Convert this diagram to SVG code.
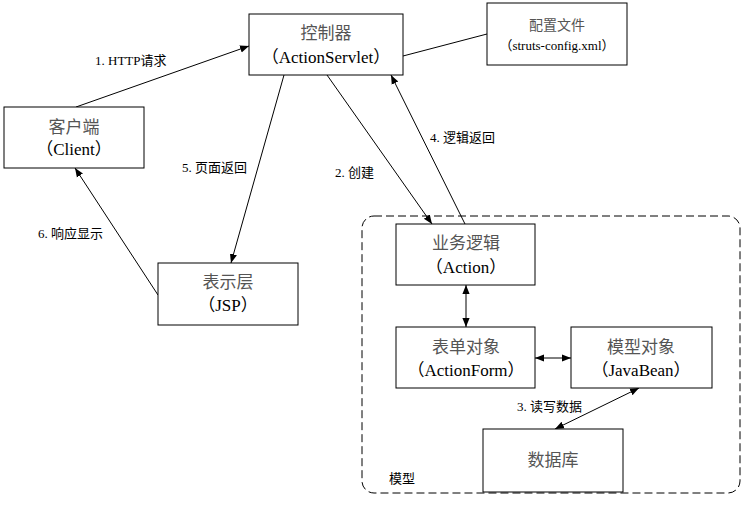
<svg xmlns="http://www.w3.org/2000/svg" width="745" height="506" viewBox="0 0 745 506">
<defs>
<marker id="ah" viewBox="0 0 10 10" refX="10" refY="5" markerWidth="9" markerHeight="9" markerUnits="userSpaceOnUse" orient="auto-start-reverse">
<path d="M0,1 L10,5 L0,9 z" fill="#000"/>
</marker>
<style>
.box{fill:#fff;stroke:#000;stroke-width:1}
.t{font-family:"Liberation Serif","Noto Sans CJK SC",serif;font-size:17px;fill:#000;text-anchor:middle}
.cn{fill:#555}
.lbl{font-family:"Liberation Serif","Noto Sans CJK SC",serif;font-size:13px;fill:#000}
.c{fill:none;stroke:#000;stroke-width:1}
</style>
</defs>
<rect width="745" height="506" fill="#fff"/>
<g id="model-group">
<rect x="362" y="216" width="378" height="277" rx="12" ry="12" fill="none" stroke="#000" stroke-width="1" stroke-dasharray="8,4"/>
<text class="lbl" x="389" y="483">模型</text>
</g>
<g id="connectors">
<line class="c" x1="76" y1="107" x2="249" y2="46" marker-end="url(#ah)"/>
<line class="c" x1="403" y1="56" x2="487" y2="34"/>
<line class="c" x1="284" y1="75" x2="231" y2="263" marker-end="url(#ah)"/>
<line class="c" x1="327" y1="75" x2="432" y2="224" marker-end="url(#ah)"/>
<line class="c" x1="465" y1="224" x2="391" y2="75" marker-end="url(#ah)"/>
<line class="c" x1="158" y1="295" x2="75" y2="168" marker-end="url(#ah)"/>
<line class="c" x1="466" y1="285" x2="466" y2="327" marker-start="url(#ah)" marker-end="url(#ah)"/>
<line class="c" x1="535" y1="358" x2="571" y2="358" marker-start="url(#ah)" marker-end="url(#ah)"/>
<line class="c" x1="639" y1="388" x2="555" y2="429" marker-start="url(#ah)" marker-end="url(#ah)"/>
<text class="lbl" x="95" y="65">1. HTTP请求</text>
<text class="lbl" x="335" y="177">2. 创建</text>
<text class="lbl" x="517" y="411">3. 读写数据</text>
<text class="lbl" x="430" y="142">4. 逻辑返回</text>
<text class="lbl" x="182" y="172">5. 页面返回</text>
<text class="lbl" x="38" y="238">6. 响应显示</text>
</g>
<g id="controller">
<rect class="box" x="249" y="14" width="154" height="61"/>
<text class="t cn" x="326" y="39">控制器</text>
<text class="t" x="326" y="63">（ActionServlet）</text>
</g>
<g id="config">
<rect class="box" x="487" y="3" width="140" height="62"/>
<text class="t cn" x="557" y="30" style="font-size:14px">配置文件</text>
<text class="t" x="557" y="50" style="font-size:13px">（struts-config.xml）</text>
</g>
<g id="client">
<rect class="box" x="4" y="107" width="140" height="61"/>
<text class="t cn" x="74" y="133">客户端</text>
<text class="t" x="74" y="155">（Client）</text>
</g>
<g id="jsp">
<rect class="box" x="158" y="263" width="140" height="62"/>
<text class="t cn" x="228" y="288">表示层</text>
<text class="t" x="228" y="311">（JSP）</text>
</g>
<g id="action">
<rect class="box" x="396" y="224" width="139" height="61"/>
<text class="t cn" x="466" y="249">业务逻辑</text>
<text class="t" x="466" y="273">（Action）</text>
</g>
<g id="actionform">
<rect class="box" x="396" y="327" width="139" height="61"/>
<text class="t cn" x="466" y="353">表单对象</text>
<text class="t" x="466" y="376">（ActionForm）</text>
</g>
<g id="javabean">
<rect class="box" x="571" y="327" width="141" height="61"/>
<text class="t cn" x="641" y="353">模型对象</text>
<text class="t" x="641" y="376">（JavaBean）</text>
</g>
<g id="database">
<rect class="box" x="483" y="429" width="140" height="63"/>
<text class="t cn" x="553" y="466">数据库</text>
</g>
</svg>
